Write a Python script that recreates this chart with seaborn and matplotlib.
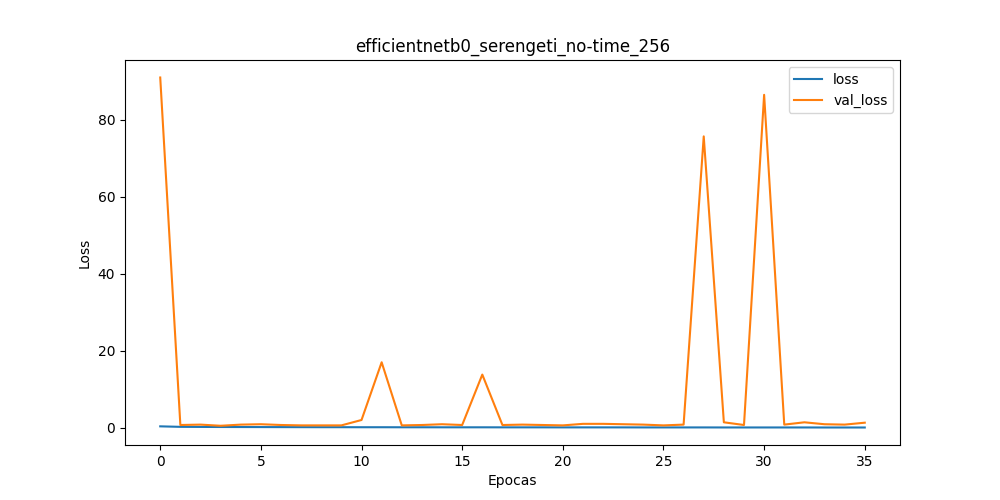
import matplotlib
matplotlib.use("Agg")
import matplotlib.pyplot as plt
import seaborn as sns
import pandas as pd

epochs = list(range(36))
loss = [0.35, 0.22, 0.2, 0.18, 0.17, 0.16, 0.15, 0.14, 0.13, 0.13, 0.12, 0.12,
        0.11, 0.11, 0.1, 0.1, 0.1, 0.09, 0.09, 0.09, 0.08, 0.08, 0.08, 0.08,
        0.07, 0.07, 0.07, 0.07, 0.06, 0.06, 0.06, 0.06, 0.06, 0.05, 0.05, 0.05]
val_loss = [91.0, 0.7, 0.8, 0.5, 0.8, 0.9, 0.7, 0.6, 0.6, 0.6, 2.0, 17.0,
            0.6, 0.7, 0.9, 0.7, 13.8, 0.7, 0.8, 0.7, 0.6, 1.0, 1.0, 0.9,
            0.8, 0.6, 0.8, 75.7, 1.4, 0.7, 86.5, 0.8, 1.4, 0.9, 0.8, 1.3]

df = pd.DataFrame({"epoch": epochs, "loss": loss, "val_loss": val_loss})
long = df.melt(id_vars="epoch", var_name="series", value_name="value")

fig, ax = plt.subplots(figsize=(10, 5), dpi=100)
sns.lineplot(data=long, x="epoch", y="value", hue="series",
             palette=["#1f77b4", "#ff7f0e"], ax=ax, linewidth=1.5)
ax.set_title("efficientnetb0_serengeti_no-time_256")
ax.set_xlabel("Epocas")
ax.set_ylabel("Loss")
ax.legend(title=None, loc="upper right")
fig.savefig("out.png", dpi=100)
